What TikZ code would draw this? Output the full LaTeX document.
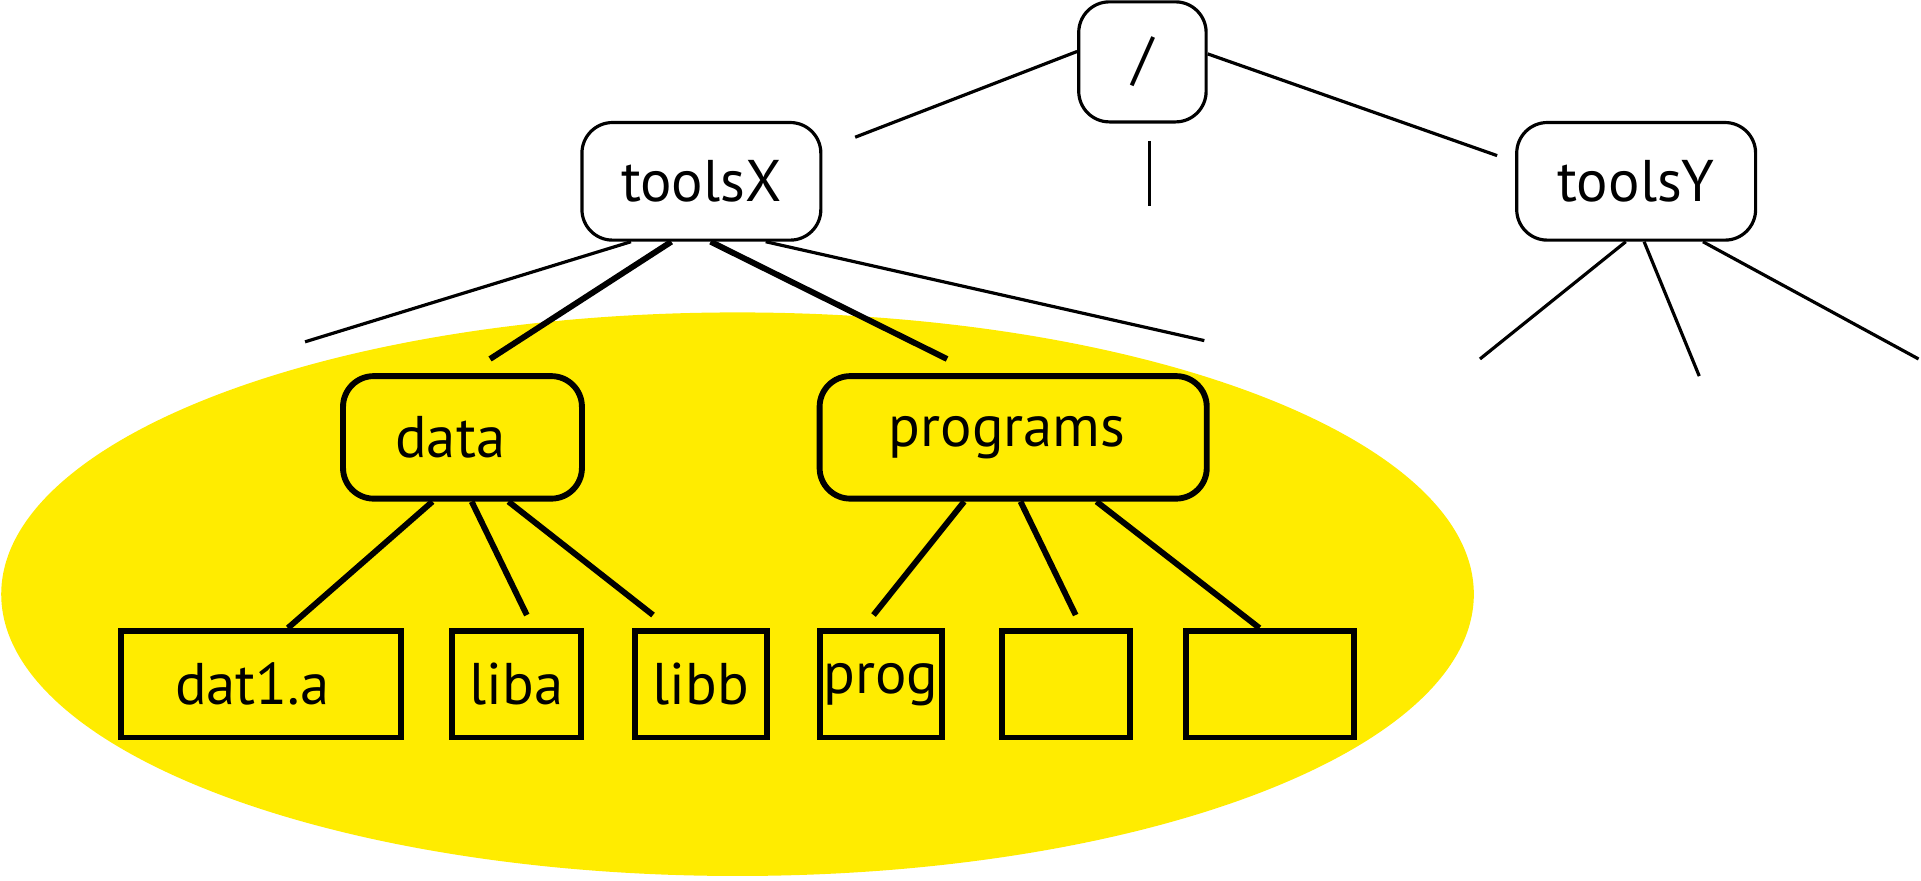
\documentclass[tikz,border=0pt]{standalone}
\usepackage{fontspec}
\setmainfont{PT Sans}
\definecolor{yel}{RGB}{255,236,0}
\tikzset{
  thinline/.style={line width=1.3pt},
  thickline/.style={line width=2.4pt},
  dirbox/.style={draw, rounded corners=12.5pt, inner sep=0pt, font=\fontsize{24}{28}\selectfont},
  thindir/.style={dirbox, line width=1.3pt, fill=white},
  thickdir/.style={dirbox, line width=2.4pt, fill=yel},
  leafbox/.style={draw, line width=2.4pt, inner sep=0pt, fill=yel, minimum height=43.5pt, font=\fontsize{24}{28}\selectfont},
}
\begin{document}
\begin{tikzpicture}[x=0.5pt,y=-0.5pt]
\useasboundingbox (0,0) rectangle (1568,719);
\fill[yel] (602,485) ellipse [x radius=300.5pt, y radius=115pt];

% top level
\node[thindir, minimum width=52pt, minimum height=49pt] (root) at (932.5,50.5) {/};
\node[thindir, minimum width=97.5pt, minimum height=48pt] (toolsX) at (572.5,148) {toolsX};
\node[thindir, minimum width=97.5pt, minimum height=48pt] (toolsY) at (1335.5,148) {toolsY};

% second level
\node[thickdir, minimum width=97.5pt, minimum height=50pt] (data) at (377.5,357) {data\hspace*{10pt}};
\node[thickdir, minimum width=158pt, minimum height=50pt] (programs) at (827,357) {programs\hspace*{5pt}};

% leaves
\node[leafbox, minimum width=114pt] (dat1) at (213,558.5) {dat1.a\hspace*{7pt}};
\node[leafbox, minimum width=52.5pt] (liba) at (421.5,558.5) {liba};
\node[leafbox, minimum width=54pt] (libb) at (572,558.5) {libb};
\node[leafbox, minimum width=50pt] (prog) at (719,558.5) {prog};
\node[leafbox, minimum width=52pt] (empA) at (870,558.5) {};
\node[leafbox, minimum width=68.5pt] (empB) at (1036.5,558.5) {};

% free ends
\coordinate (rl) at (698,112);
\coordinate (rr) at (1222,127);
\coordinate (rmA) at (938,115);
\coordinate (rmB) at (938,168);
\coordinate (xa) at (249,279);
\coordinate (xb) at (400,293);
\coordinate (xc) at (773,293);
\coordinate (xd) at (983,278);
\coordinate (ya) at (1208,293);
\coordinate (yb) at (1387,307);
\coordinate (yc) at (1566,293);
\coordinate (lb) at (430,502);
\coordinate (lc) at (533,502);
\coordinate (pa) at (713,502);
\coordinate (pb) at (878,502);

% root connectors
\draw[thinline] ([yshift=4.25pt]root.west) -- (rl);
\draw[thinline] ([yshift=3.25pt]root.east) -- (rr);
\draw[thinline] (rmA) -- (rmB);

% toolsX connectors
\draw[thinline] ([xshift=-28.75pt]toolsX.south) -- (xa);
\draw[thickline] ([xshift=-12.25pt]toolsX.south) -- (xb);
\draw[thickline] ([xshift=3.75pt]toolsX.south) -- (xc);
\draw[thinline] ([xshift=26.25pt]toolsX.south) -- (xd);

% toolsY connectors
\draw[thinline] ([xshift=-4.25pt]toolsY.south) -- (ya);
\draw[thinline] ([xshift=3.25pt]toolsY.south) -- (yb);
\draw[thinline] ([xshift=27.25pt]toolsY.south) -- (yc);

% data connectors
\draw[thickline] ([xshift=-12.25pt]data.south) -- ([xshift=11pt]dat1.north);
\draw[thickline] ([xshift=3.75pt]data.south) -- (lb);
\draw[thickline] ([xshift=18.75pt]data.south) -- (lc);

% programs connectors
\draw[thickline] ([xshift=-20pt]programs.south) -- (pa);
\draw[thickline] ([xshift=3pt]programs.south) -- (pb);
\draw[thickline] ([xshift=34pt]programs.south) -- ([xshift=-4.25pt]empB.north);
\end{tikzpicture}
\end{document}
